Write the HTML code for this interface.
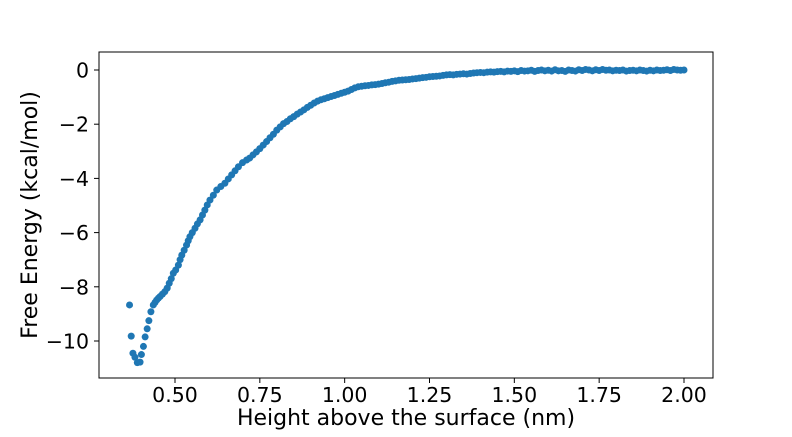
<!DOCTYPE html>
<html><head><meta charset="utf-8"><style>
body{margin:0;background:#fff}
svg text{font-family:"DejaVu Sans","Liberation Sans",sans-serif;fill:#000}
</style></head><body>
<svg id="chart" width="792" height="432" viewBox="0 0 792 432" xmlns="http://www.w3.org/2000/svg">
<rect width="792" height="432" fill="#fff"/>
<g id="points"></g>
<g id="xticks"></g>
<g id="yticks"></g>
<rect x="99" y="52" width="614" height="326" fill="none" stroke="#000" stroke-width="1"/>
<text x="406" y="425" font-size="22" text-anchor="middle">Height above the surface (nm)</text>
<text transform="translate(37,215) rotate(-90)" font-size="22" text-anchor="middle">Free Energy (kcal/mol)</text>
</svg>
<script>
const xTicks=[0.5,0.75,1.0,1.25,1.5,1.75,2.0];
const xTickLabels=["0.50","0.75","1.00","1.25","1.50","1.75","2.00"];
const yTicks=[0,-2,-4,-6,-8,-10];
const yTickLabels=["0","\u22122","\u22124","\u22126","\u22128","\u221210"];
const heights=[0.366,0.371,0.376,0.382,0.389,0.397,0.401,0.407,0.412,0.418,0.423,0.429,0.436,0.441,0.446,0.451,0.456,0.463,0.47,0.477,0.483,0.489,0.495,0.502,0.51,0.515,0.52,0.527,0.534,0.539,0.544,0.551,0.559,0.566,0.574,0.581,0.588,0.595,0.603,0.613,0.623,0.635,0.647,0.657,0.667,0.677,0.687,0.699,0.711,
0.72,0.73,0.74,0.75,0.76,0.77,0.78,0.79,0.80,0.81,0.82,0.83,0.84,0.85,0.86,0.87,0.88,0.89,0.90,0.91,0.92,0.93,0.94,0.95,0.96,0.97,0.98,0.99,1.00,1.01,1.02,1.03,1.04,1.05,1.06,1.07,1.08,1.09,1.10,1.11,1.12,1.13,1.14,1.15,1.16,1.17,1.18,1.19,1.20,1.21,1.22,1.23,1.24,1.25,1.26,1.27,1.28,1.29,1.30,1.31,1.32,1.33,1.34,1.35,1.36,1.37,1.38,1.39,1.40,1.41,1.42,1.43,1.44,1.45,1.46,1.47,1.48,1.49,1.50,1.51,1.52,1.53,1.54,1.55,1.56,1.57,1.58,1.59,1.60,1.61,1.62,1.63,1.64,1.65,1.66,1.67,1.68,1.69,1.70,1.71,1.72,1.73,1.74,1.75,1.76,1.77,1.78,1.79,1.80,1.81,1.82,1.83,1.84,1.85,1.86,1.87,1.88,1.89,1.90,1.91,1.92,1.93,1.94,1.95,1.96,1.97,1.98,1.99,2.00];
const energies=[-8.67,-9.82,-10.45,-10.6,-10.8,-10.78,-10.5,-10.2,-9.85,-9.55,-9.25,-8.92,-8.67,-8.58,-8.49,-8.42,-8.36,-8.27,-8.18,-8.05,-7.87,-7.7,-7.5,-7.38,-7.2,-7.0,-6.83,-6.65,-6.46,-6.3,-6.15,-6.0,-5.84,-5.68,-5.53,-5.35,-5.17,-4.98,-4.8,-4.62,-4.43,-4.3,-4.18,-4.02,-3.87,-3.72,-3.57,-3.42,-3.32,
-3.25,-3.13,-3.02,-2.9,-2.77,-2.64,-2.5,-2.37,-2.22,-2.1,-1.98,-1.9,-1.8,-1.72,-1.63,-1.55,-1.47,-1.38,-1.3,-1.22,-1.15,-1.1,-1.06,-1.02,-0.98,-0.94,-0.9,-0.86,-0.82,-0.78,-0.72,-0.66,-0.62,-0.6,-0.58,-0.57,-0.55,-0.54,-0.52,-0.5,-0.47,-0.45,-0.42,-0.4,-0.38,-0.37,-0.36,-0.35,-0.33,-0.32,-0.3,-0.28,-0.27,-0.25,-0.24,-0.23,-0.22,-0.2,-0.18,-0.17,-0.18,-0.16,-0.15,-0.14,-0.15,-0.13,-0.11,-0.1,-0.09,-0.1,-0.08,-0.07,-0.08,-0.06,-0.05,-0.07,-0.04,-0.05,-0.03,-0.06,-0.02,-0.04,-0.03,-0.01,-0.05,-0.02,0.0,-0.03,-0.01,-0.04,0.01,-0.03,-0.02,-0.05,0.0,-0.02,-0.04,0.01,-0.02,0.02,0.0,-0.03,0.01,-0.02,0.02,-0.01,0.0,-0.03,-0.01,-0.02,0.0,-0.04,-0.02,-0.01,-0.03,0.0,-0.02,-0.04,-0.01,-0.03,0.0,-0.02,-0.01,0.01,-0.02,0.02,0.0,-0.01,0.0];
const NS="http://www.w3.org/2000/svg";
function xPos(v){return 175+(v-0.5)*339.33;}
function yPos(v){return 70-v*27.1;}
const pg=document.getElementById('points');
for(let i=0;i<heights.length;i++){
  const c=document.createElementNS(NS,'circle');
  c.setAttribute('cx',xPos(heights[i]));c.setAttribute('cy',yPos(energies[i]));
  c.setAttribute('r',3.5);c.setAttribute('fill','#1f77b4');
  
  
  pg.appendChild(c);
}
const xg=document.getElementById('xticks');
xTicks.forEach((t,i)=>{
  const x=xPos(t);
  const l=document.createElementNS(NS,'line');
  l.setAttribute('x1',x);l.setAttribute('x2',x);l.setAttribute('y1',378);l.setAttribute('y2',383);l.setAttribute('stroke','#000');
  
  
  xg.appendChild(l);
  const tx=document.createElementNS(NS,'text');
  tx.setAttribute('x',x);tx.setAttribute('y',402);tx.setAttribute('font-size','20.5');tx.setAttribute('text-anchor','middle');
  tx.textContent=xTickLabels[i];
  
  
  xg.appendChild(tx);
});
const yg=document.getElementById('yticks');
yTicks.forEach((t,i)=>{
  const y=yPos(t);
  const l=document.createElementNS(NS,'line');
  l.setAttribute('x1',94);l.setAttribute('x2',99);l.setAttribute('y1',y);l.setAttribute('y2',y);l.setAttribute('stroke','#000');
  
  
  yg.appendChild(l);
  const tx=document.createElementNS(NS,'text');
  tx.setAttribute('x',89);tx.setAttribute('y',y+7.5);tx.setAttribute('font-size','20.5');tx.setAttribute('text-anchor','end');
  tx.textContent=yTickLabels[i];
  
  
  yg.appendChild(tx);
});
</script>
</body></html>
